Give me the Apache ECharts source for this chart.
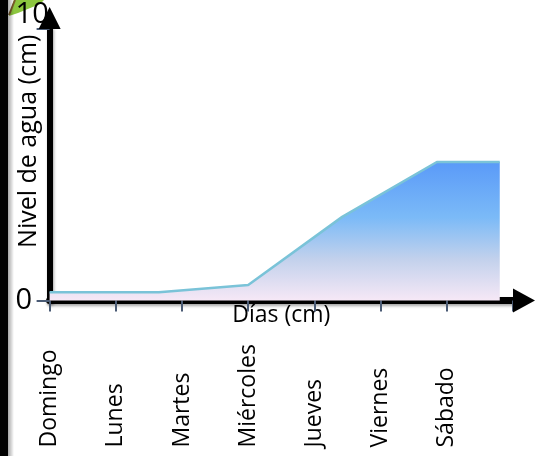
<!DOCTYPE html>
<html><head><meta charset="utf-8">
<script src="https://cdn.jsdelivr.net/npm/echarts@6/dist/echarts.min.js"></script>
<style>html,body{margin:0;padding:0;background:#fff}#c{width:536px;height:456px}</style>
</head><body><div id="c"></div>
<script>
const days = ['Domingo','Lunes','Martes','Miércoles','Jueves','Viernes','Sábado'];
const dayPos = [0, 1.65, 3.0, 4.42, 5.85, 6.8];
const level = [0.3, 0.3, 0.57, 3.08, 5.1, 5.1];
const yTicks = [0, 10];
const xTitle = 'Días (cm)';
const yTitle = 'Nivel de agua (cm)';

const FONT = 'Open Sans';
const chart = echarts.init(document.getElementById('c'), null, {renderer: 'canvas'});
const axisShadow = {shadowColor: 'rgba(0,0,0,0.35)', shadowBlur: 3, shadowOffsetX: 1, shadowOffsetY: 2};
chart.setOption({
  backgroundColor: '#fff',
  animation: false,
  grid: {left: 49.6, right: 23, top: 29, bottom: 155.5, containLabel: false, outerBoundsMode: 'none'},
  xAxis: {
    type: 'value', min: 0, max: days.length, interval: 1,
    name: xTitle, nameLocation: 'middle', nameGap: 3, nameMoveOverlap: false,
    nameTextStyle: {fontFamily: FONT, fontSize: 23, color: '#000'},
    axisLine: {show: true, onZero: false, symbol: ['none', 'triangle'], symbolSize: [24, 22], symbolOffset: [0, 11],
      lineStyle: Object.assign({color: '#000', width: 7}, axisShadow)},
    axisTick: {show: true, length: 11, lineStyle: {color: '#4a5b75', width: 2}},
    splitLine: {show: false},
    axisLabel: {rotate: 90, align: 'left', verticalAlign: 'middle', margin: 147, fontFamily: FONT, fontSize: 23, color: '#000',
      formatter: v => (days[v] !== undefined ? days[v] : '')}
  },
  yAxis: {
    type: 'value', min: yTicks[0], max: yTicks[yTicks.length - 1], interval: 10,
    name: yTitle, nameLocation: 'middle', nameGap: 8, nameRotate: 90, nameMoveOverlap: false,
    nameTextStyle: {fontFamily: FONT, fontSize: 25, color: '#000', padding: [0, 0, 0, 47]},
    axisLine: {show: true, symbol: ['none', 'triangle'], symbolSize: [22, 22], symbolOffset: [0, 11],
      lineStyle: Object.assign({color: '#000', width: 6}, axisShadow)},
    axisTick: {show: true, length: 13, lineStyle: {color: '#4a5b75', width: 2}},
    splitLine: {show: false},
    axisLabel: {align: 'left', margin: 34, fontFamily: FONT, fontSize: 29, color: '#000',
      formatter: v => (v === yTicks[yTicks.length - 1] ? '{t|' + v + '}' : '{b|' + v + '}'),
      rich: {t: {fontFamily: FONT, fontSize: 29, color: '#000', padding: [0, 0, 28, 0]},
             b: {fontFamily: FONT, fontSize: 29, color: '#000'}}}
  },
  graphic: [
    {type: 'polygon', shape: {points: [[9, 16], [14, 0], [44, 0], [40, 4], [18, 13]]}, style: {fill: '#8cc63f'}, z: -1},
    {type: 'polyline', shape: {points: [[9, 15], [15, 0]]}, style: {stroke: '#7a5a2a', lineWidth: 2}, z: -1},
    {type: 'rect', shape: {x: 8, y: 0, width: 6, height: 456},
      style: {fill: new echarts.graphic.LinearGradient(0, 0, 1, 0, [{offset: 0, color: 'rgba(0,0,0,0.35)'}, {offset: 1, color: 'rgba(0,0,0,0)'}])}},
    {type: 'rect', shape: {x: 0, y: 0, width: 8, height: 456}, style: {fill: '#000'}}
  ],
  series: [{
    type: 'line', symbol: 'none', z: 1,
    data: dayPos.map((d, i) => [d, level[i]]),
    lineStyle: {color: '#7ac3d8', width: 2.5},
    areaStyle: {opacity: 1, color: new echarts.graphic.LinearGradient(0, 0, 0, 1, [
      {offset: 0, color: '#5a9af8'}, {offset: 0.4, color: '#7bbaf7'},
      {offset: 0.7, color: '#c2d1ec'}, {offset: 1, color: '#f6e8f6'}])}
  }]
});
</script></body></html>
